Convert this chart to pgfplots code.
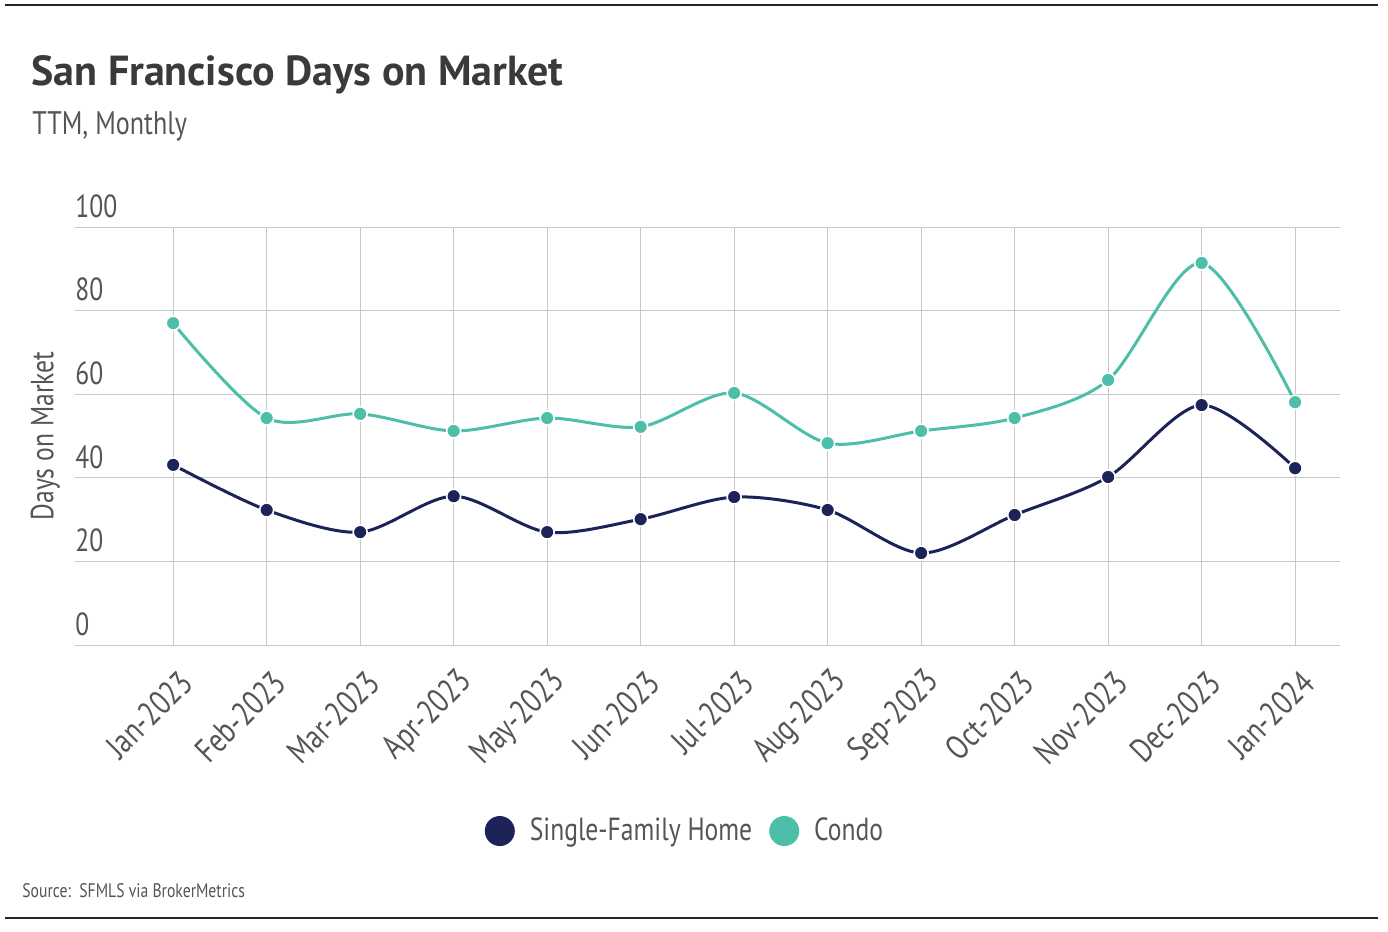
\documentclass[border=0pt]{standalone}
\usepackage{fontspec}
\setmainfont{PT Sans}
\newfontfamily\narrow[FakeStretch=0.8]{PT Sans}
\usepackage{pgfplots}
\pgfplotsset{compat=1.18}
\definecolor{navy}{HTML}{1B2359}
\definecolor{teal}{HTML}{4DBFA9}
\definecolor{txt}{HTML}{555555}
\definecolor{ttl}{HTML}{3A3A3A}
\definecolor{grd}{HTML}{C8C8C8}

\pgfplotstableread{
x sfh condo
0 43.1 77.0
1 32.3 54.3
2 27.0 55.3
3 35.6 51.2
4 27.0 54.3
5 30.1 52.2
6 35.4 60.3
7 32.3 48.3
8 22.0 51.2
9 31.1 54.3
10 40.2 63.4
11 57.4 91.4
12 42.3 58.1
}\dom

\begin{document}
\begin{tikzpicture}[x=0.5pt,y=-0.5pt]
\path[use as bounding box] (0,0) rectangle (1388,932);
\draw[line width=1pt,black!85] (5,5) -- (1378,5);
\draw[line width=1pt,black!85] (5,918) -- (1378,918);
\node[anchor=base west,inner sep=0,text=ttl,font=\fontsize{21}{24}\selectfont\bfseries] at (31,85) {San Francisco Days on Market};
\node[anchor=base west,inner sep=0,text=txt,font=\narrow\fontsize{16.3}{19}\selectfont] at (32,134) {TTM, Monthly};
\node[anchor=base west,inner sep=0,text=txt,font=\narrow\fontsize{9.8}{12}\selectfont] at (22,897) {Source:\ \ SFMLS via BrokerMetrics};

\begin{axis}[
  at={(37.5pt,-322.5pt)}, anchor=south west,
  scale only axis, width=632.5pt, height=209pt,
  xmin=-1.05, xmax=12.48, ymin=0, ymax=100,
  axis line style={draw=none},
  xtick={0,...,12}, ytick={0,20,...,100},
  xticklabels={Jan-2023,Feb-2023,Mar-2023,Apr-2023,May-2023,Jun-2023,Jul-2023,Aug-2023,Sep-2023,Oct-2023,Nov-2023,Dec-2023,Jan-2024},
  major tick length=0pt,
  xmajorgrids, ymajorgrids,
  grid style={grd,line width=0.5pt},
  clip=false,
  /pgf/number format/assume math mode=true,
  tick label style={text=txt,font=\narrow\fontsize{16}{18}\selectfont},
  yticklabel style={anchor=south west,inner sep=0pt,yshift=4.5pt},
  yticklabel shift=0pt,
  xticklabel style={rotate=45,anchor=east,inner sep=0pt,xshift=-6.5pt,yshift=-16pt,font=\narrow\fontsize{17}{19}\selectfont},
  ylabel={Days on Market},
  ylabel style={text=txt,font=\narrow\fontsize{16}{18}\selectfont,at={(rel axis cs:0,0.5)},yshift=4pt},
  legend columns=2,
  legend style={draw=none,at={(0.483,-0.445)},anchor=center,font=\narrow\fontsize{16}{18}\selectfont,text=txt,
    /tikz/every even column/.append style={column sep=6.5pt}},
]
\addlegendimage{legend image code/.code={\path[draw=none] (-4.5pt,0) -- (16pt,0);\fill[navy,draw=none] (3pt,0) circle (7.5pt);}}
\addlegendentry{Single-Family Home}
\addlegendimage{legend image code/.code={\path[draw=none] (-4.5pt,0) -- (16pt,0);\fill[teal,draw=none] (3pt,0) circle (7.5pt);}}
\addlegendentry{Condo}
\addplot[navy,line width=1.5pt,smooth,tension=0.5,mark=*,mark size=3.5pt,
  mark options={fill=navy,draw=white,line width=0.8pt},forget plot] table[x=x,y=sfh]{\dom};
\addplot[teal,line width=1.5pt,smooth,tension=0.5,mark=*,mark size=3.5pt,
  mark options={fill=teal,draw=white,line width=0.8pt},forget plot] table[x=x,y=condo]{\dom};
\end{axis}
\end{tikzpicture}
\end{document}
